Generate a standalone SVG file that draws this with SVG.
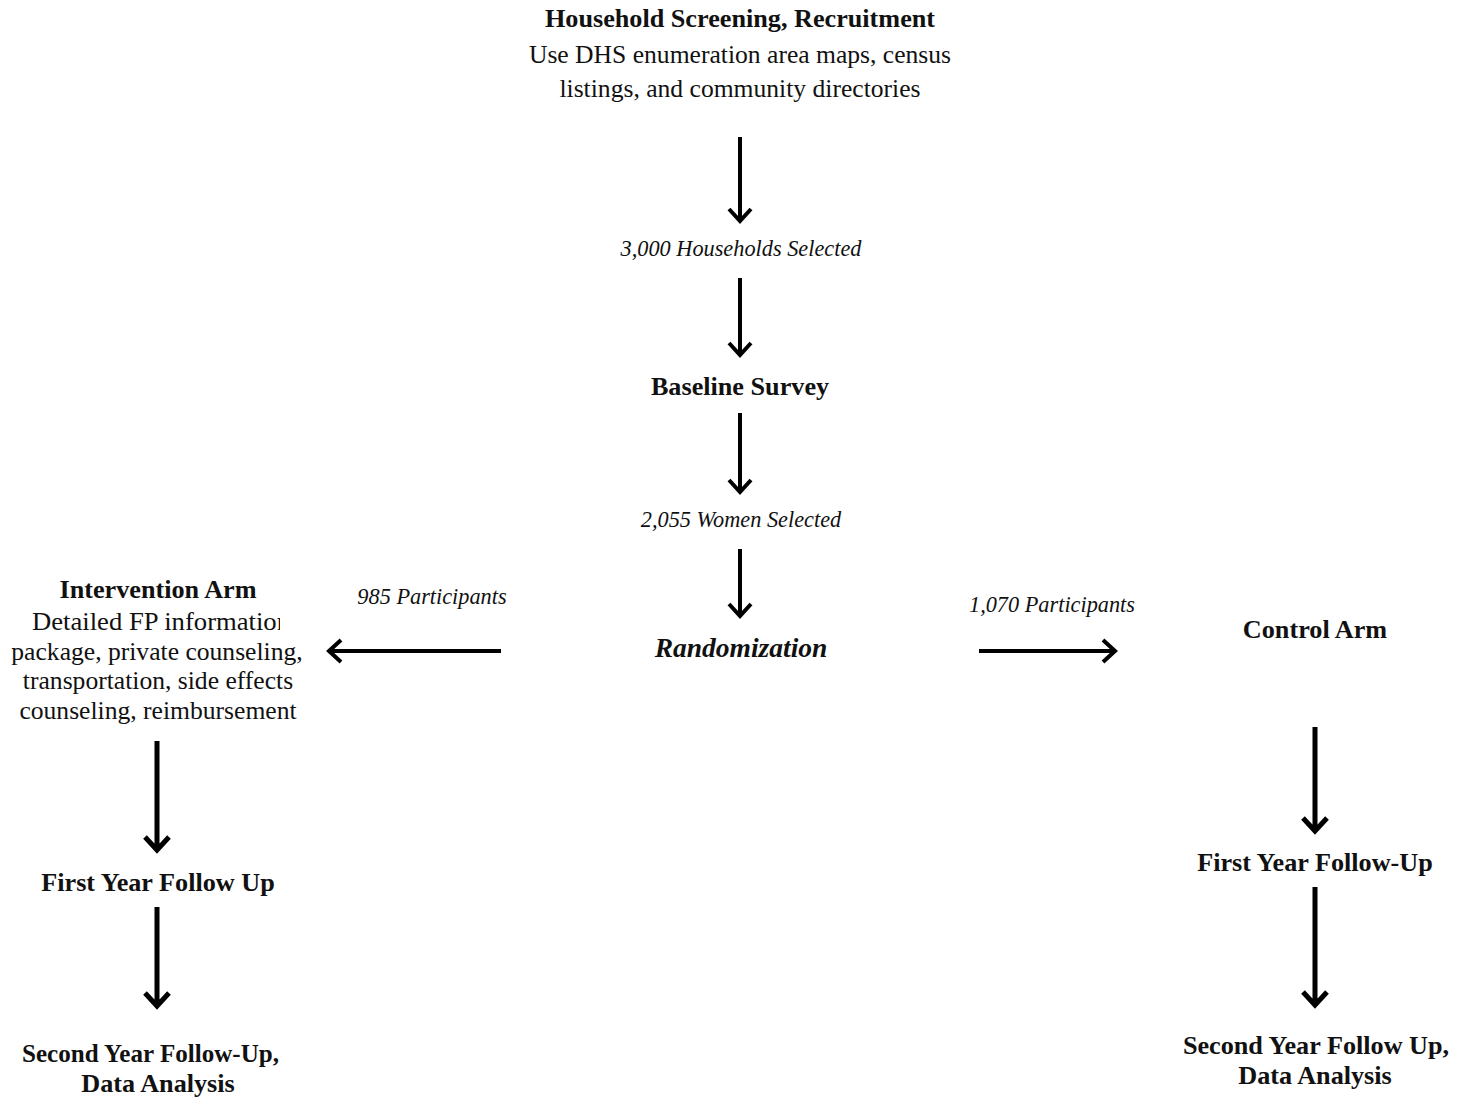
<svg xmlns="http://www.w3.org/2000/svg" width="1458" height="1099" viewBox="0 0 1458 1099">
<style>
text{font-family:"Liberation Serif","Times New Roman",serif;fill:#111;text-anchor:middle;font-size:25.6px}
.b{font-weight:bold;font-size:26.2px}
.i{font-style:italic;font-size:22.3px}
.r{font-weight:bold;font-style:italic;font-size:27.5px}
.a{stroke:#000;stroke-width:4;fill:none}
.t{stroke-width:5}
</style>
<defs>
<clipPath id="clipL1"><rect x="0" y="600" width="280" height="40"/></clipPath>
<clipPath id="clipL"><rect x="0" y="640" width="304" height="100"/></clipPath>
</defs>
<rect width="1458" height="1099" fill="#fff"/>
<g id="n-screening">
<text class="b" x="740" y="27">Household Screening, Recruitment</text>
<text x="740" y="63">Use DHS enumeration area maps, census</text>
<text x="740" y="97">listings, and community directories</text>
</g>
<g id="n-households"><text class="i" x="741" y="256">3,000 Households Selected</text></g>
<g id="n-baseline"><text class="b" x="740" y="395">Baseline Survey</text></g>
<g id="n-women"><text class="i" x="741" y="527">2,055 Women Selected</text></g>
<g id="n-random"><text class="r" x="741" y="657">Randomization</text></g>
<g id="n-intervention">
<text class="b" x="158" y="598">Intervention Arm</text>
<text x="32" y="630" style="text-anchor:start" textLength="258" lengthAdjust="spacingAndGlyphs" clip-path="url(#clipL1)">Detailed FP information</text>
<g clip-path="url(#clipL)">
<text x="157" y="660">package, private counseling,</text>
<text x="158" y="689">transportation, side effects</text>
<text x="158" y="719">counseling, reimbursement</text>
</g>
</g>
<g id="n-control"><text class="b" x="1315" y="638">Control Arm</text></g>
<g id="n-fy-left"><text class="b" x="158" y="891">First Year Follow Up</text></g>
<g id="n-sy-left"><text class="b" x="150.5" y="1062" textLength="257" lengthAdjust="spacingAndGlyphs">Second Year Follow-Up,</text><text class="b" x="158" y="1092">Data Analysis</text></g>
<g id="n-fy-right"><text class="b" x="1315" y="871">First Year Follow-Up</text></g>
<g id="n-sy-right"><text class="b" x="1316" y="1054">Second Year Follow Up,</text><text class="b" x="1315" y="1084">Data Analysis</text></g>
<g id="connectors">
<path class="a" d="M740 137V220M729 209L740 221L751 209"/>
<path class="a" d="M740 278V354M729 343L740 355L751 343"/>
<path class="a" d="M740 413V491M729 480L740 492L751 480"/>
<path class="a" d="M740 549V615M729 604L740 616L751 604"/>
<path class="a" d="M501 651H330M341 640L329 651L341 662"/>
<path class="a" d="M979 651H1114M1103 640L1115 651L1103 662"/>
<path class="a t" d="M157 741V849M145 837L157 850L169 837"/>
<path class="a t" d="M157 907V1005M145 993L157 1006L169 993"/>
<path class="a t" d="M1315 727V830M1303 818L1315 831L1327 818"/>
<path class="a t" d="M1315 887V1004M1303 992L1315 1005L1327 992"/>
<text class="i" x="432" y="604">985 Participants</text>
<text class="i" x="1052" y="612">1,070 Participants</text>
</g>
</svg>
